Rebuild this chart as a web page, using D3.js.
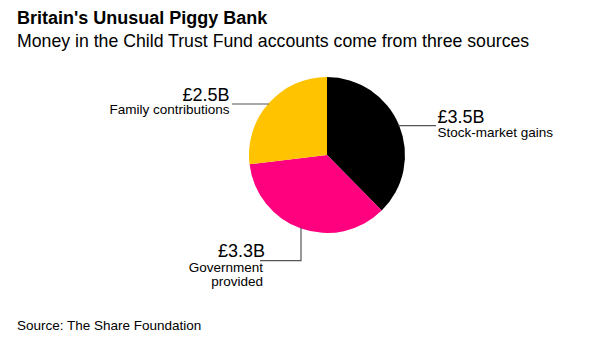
<!DOCTYPE html>
<html>
<head>
<meta charset="utf-8">
<script src="https://cdn.jsdelivr.net/npm/d3@7"></script>
<style>
  html, body { margin: 0; padding: 0; background: #fff; }
  svg { display: block; font-family: "Liberation Sans", Arial, Helvetica, sans-serif; }
</style>
</head>
<body>
<svg id="chart" width="600" height="343"></svg>
<script>
// Sources of money in Child Trust Fund accounts (billions of pounds)
const categories = ["Stock-market gains", "Government provided", "Family contributions"];
const values = [3.5, 3.3, 2.5];
const valueLabels = ["£3.5B", "£3.3B", "£2.5B"];
const colors = ["#000000", "#ff007f", "#ffc300"];

const svg = d3.select("#chart");
const W = 600, H = 343;

svg.append("rect").attr("width", W).attr("height", H).attr("fill", "#fff");

// Title block
svg.append("text").attr("x", 17).attr("y", 23.5)
  .attr("font-size", 18).attr("font-weight", "bold").attr("fill", "#000")
  .text("Britain's Unusual Piggy Bank");
svg.append("text").attr("x", 17).attr("y", 46.5)
  .attr("font-size", 17.7).attr("fill", "#000")
  .text("Money in the Child Trust Fund accounts come from three sources");

// Source note
svg.append("text").attr("x", 17).attr("y", 330)
  .attr("font-size", 13.5).attr("fill", "#000")
  .text("Source: The Share Foundation");

// Pie
const cx = 327, cy = 155, r = 78;
const pie = d3.pie().sort(null).value(d => d.value);
const arcs = pie(categories.map((c, i) => ({ name: c, value: values[i], label: valueLabels[i], color: colors[i] })));
const arc = d3.arc().innerRadius(0).outerRadius(r);

const g = svg.append("g").attr("transform", `translate(${cx},${cy})`);
g.selectAll("path").data(arcs).join("path")
  .attr("d", arc)
  .attr("fill", d => d.data.color);

// Leader lines and labels
const lineColor = "#555";
const valueSize = 18, nameSize = 13.5;
const ann = svg.append("g");

// Stock-market gains: horizontal leader to the right
{
  const a = arcs[0];
  const y = 125.7;
  const dy = y - cy;
  const x0 = cx + Math.sqrt(r * r - dy * dy) - 1;
  ann.append("line").attr("x1", x0).attr("y1", y).attr("x2", 436).attr("y2", y)
    .attr("stroke", lineColor).attr("stroke-width", 1.2);
  ann.append("text").attr("x", 437.5).attr("y", 123).attr("font-size", valueSize).text(a.data.label);
  ann.append("text").attr("x", 437.5).attr("y", 137).attr("font-size", nameSize).text(a.data.name);
}

// Family contributions: horizontal leader to the left
{
  const a = arcs[2];
  const y = 104;
  const dy = y - cy;
  const x0 = cx - Math.sqrt(r * r - dy * dy) + 1;
  ann.append("line").attr("x1", x0).attr("y1", y).attr("x2", 232).attr("y2", y)
    .attr("stroke", lineColor).attr("stroke-width", 1.2);
  ann.append("text").attr("x", 229.5).attr("y", 101).attr("font-size", valueSize)
    .attr("text-anchor", "end").text(a.data.label);
  ann.append("text").attr("x", 229.5).attr("y", 114).attr("font-size", nameSize)
    .attr("text-anchor", "end").text(a.data.name);
}

// Government provided: vertical drop then horizontal to the left
{
  const a = arcs[1];
  const x = 301;
  const dx = x - cx;
  const y0 = cy + Math.sqrt(r * r - dx * dx) - 1;
  const yb = 260.7;
  ann.append("path")
    .attr("d", `M${x},${y0}V${yb}H${260}`)
    .attr("fill", "none").attr("stroke", lineColor).attr("stroke-width", 1.2);
  ann.append("text").attr("x", 265).attr("y", 256.7).attr("font-size", valueSize)
    .attr("text-anchor", "end").text(a.data.label);
  const lines = ["Government", "provided"];
  lines.forEach((t, i) => {
    ann.append("text").attr("x", 263).attr("y", 272 + i * 13.5).attr("font-size", nameSize)
      .attr("text-anchor", "end").text(t);
  });
}
</script>
</body>
</html>
